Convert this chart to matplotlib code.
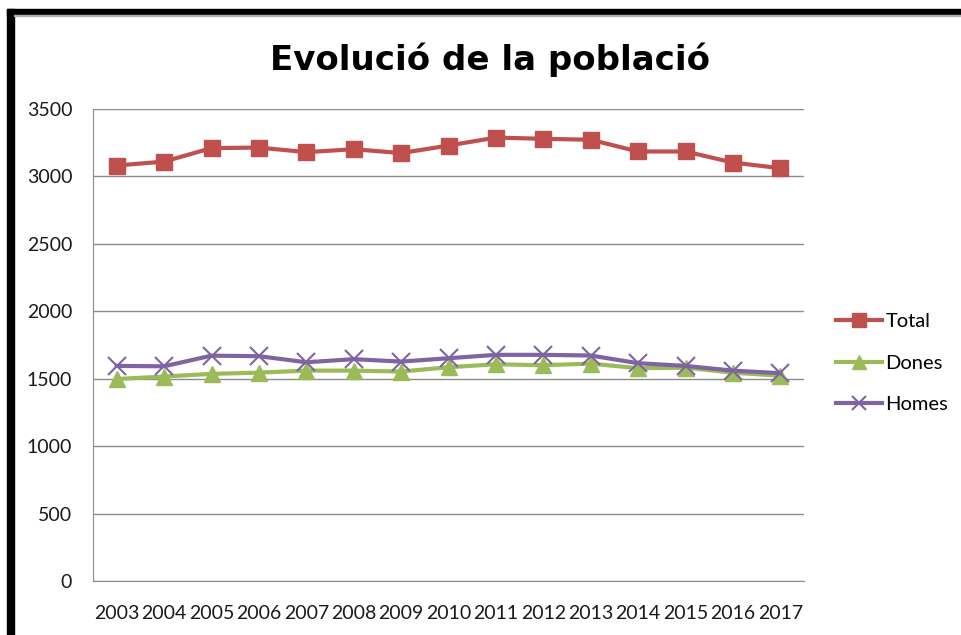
import matplotlib
matplotlib.use("Agg")
import matplotlib.pyplot as plt
from matplotlib.patches import Rectangle

years = [str(y) for y in range(2003, 2018)]
total = [3081, 3110, 3210, 3214, 3180, 3202, 3173, 3229, 3288, 3279, 3272, 3185, 3185, 3103, 3061]
dones = [1498, 1516, 1536, 1545, 1560, 1560, 1553, 1585, 1607, 1600, 1612, 1578, 1582, 1545, 1522]
homes = [1595, 1592, 1671, 1667, 1622, 1645, 1627, 1652, 1677, 1677, 1672, 1615, 1595, 1560, 1541]
y_ticks = [0, 500, 1000, 1500, 2000, 2500, 3000, 3500]

W, H = 961, 635
fig = plt.figure(figsize=(W / 100, H / 100), dpi=100)
fig.patch.set_facecolor("white")

# black frame of the screenshot (top + left)
fig.patches.append(Rectangle((7 / W, 1 - 15 / H), 1, 6 / H, transform=fig.transFigure,
                             color="black", zorder=0))
fig.patches.append(Rectangle((7 / W, 0), 7 / W, 1 - 9 / H, transform=fig.transFigure,
                             color="black", zorder=0))
fig.patches.append(Rectangle((14 / W, 1 - 16 / H), 1, 1 / H, transform=fig.transFigure,
                             color="#b0b0b0", zorder=0))

ax = fig.add_axes([93 / W, 1 - 581 / H, 711 / W, 472 / H])
x = range(len(years))
ax.plot(x, total, color="#C0504D", lw=3, marker="s", ms=12, label="Total", zorder=3)
ax.plot(x, dones, color="#9BBB59", lw=3, marker="^", ms=12, label="Dones", zorder=3)
ax.plot(x, homes, color="#8064A2", lw=3, marker="x", ms=13, mew=1.5, label="Homes", zorder=4)

ax.set_xlim(-0.5, len(years) - 0.5)
ax.set_ylim(0, 3500)
ax.set_yticks(y_ticks)
ax.set_xticks(list(x))
ax.set_xticklabels(years)
ax.grid(axis="y", color="#8c8c8c", lw=1)
ax.set_axisbelow(True)
for side in ["top", "right"]:
    ax.spines[side].set_visible(False)
for side in ["left", "bottom"]:
    ax.spines[side].set_color("#8c8c8c")
ax.tick_params(length=0, labelsize=14, colors="#1a1a1a")
ax.tick_params(axis="y", pad=15)
ax.tick_params(axis="x", pad=17)
for lab in ax.get_xticklabels() + ax.get_yticklabels():
    lab.set_family("Lato")

fig.text(490 / W, 1 - 70 / H, "Evolució de la població", ha="center", va="baseline",
         fontsize=24.5, fontweight="bold", family="DejaVu Sans")

fig.legend(loc="upper left", bbox_to_anchor=(836 / W, 1 - 313 / H), frameon=False,
           borderpad=0, borderaxespad=0, handlelength=2.3, handletextpad=0.15,
           labelspacing=1.22, markerscale=0.8, prop={"family": "Lato", "size": 14.5})

fig.savefig("out.png", dpi=100)
